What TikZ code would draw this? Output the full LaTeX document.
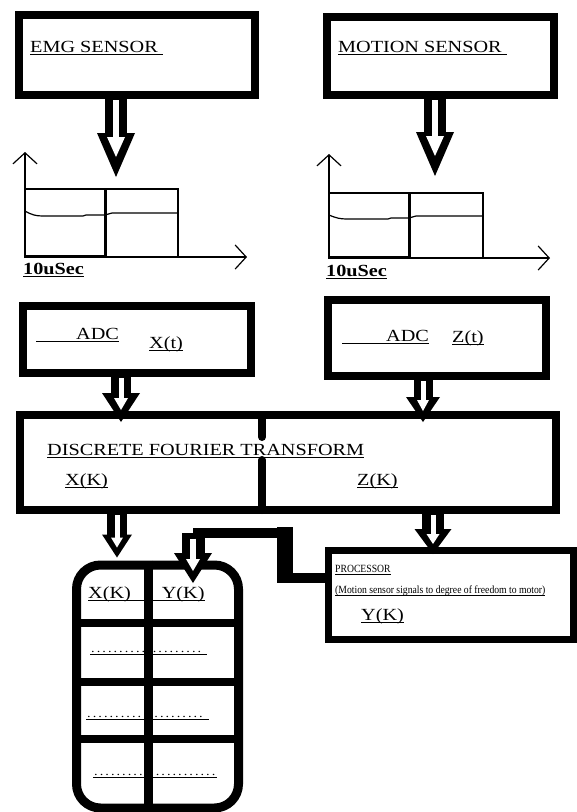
\documentclass[tikz,border=0pt]{standalone}
\usepackage{fontspec}
\setmainfont{Liberation Serif}[FakeStretch=1.19]
\newfontfamily\narrowfont{Liberation Serif}[FakeStretch=0.88]
\usetikzlibrary{arrows.meta,calc}
\newsavebox\ulbox
\newcommand\myul[1]{\sbox\ulbox{#1}\rlap{\rule[-2.6pt]{\wd\ulbox}{1.1pt}}\usebox\ulbox}
\newcommand\dotrow[1]{\hbox to #1{\leaders\hbox to 5.6pt{\hss.\hss}\hfill}}
% hollow arrow: start, end, shaft w, head w, head len, inner w, inner head w, inner back, inner start shorten
\newcommand\harrow[9]{%
  \draw[line width=#3pt, -{Triangle[length=#5pt,width=#4pt,line width=0pt]}] (#1) -- (#2);
  \draw[white, line width=#6pt, shorten <=#9pt, shorten >=#8pt, -{Triangle[length=#8pt,width=#7pt,line width=0pt]}] (#1) -- (#2);
}
\begin{document}
\begin{tikzpicture}[x=1pt,y=-1pt,
  box/.style={draw, line width=8.5pt, inner sep=0pt, outer sep=0pt},
  lbl/.style={anchor=base west, inner sep=0pt, font=\fontsize{17}{20}\selectfont},
  blbl/.style={anchor=base west, inner sep=0pt, font=\fontsize{17}{20}\selectfont\bfseries},
  dlbl/.style={anchor=base west, inner sep=0pt, font=\fontsize{12}{14}\selectfont},
  small/.style={anchor=base west, inner sep=0pt, font=\narrowfont\fontsize{11}{13}\selectfont},
  axis/.style={line width=1.2pt, -{Straight Barb[length=11pt,width=24pt]}},
  thinl/.style={line width=1.2pt},
  thickl/.style={line width=3pt},
]
\useasboundingbox (0,0) rectangle (577,812);

% boxes
\node[box, minimum width=236pt, minimum height=80pt] (emg) at (137,55) {};
\node[box, minimum width=227pt, minimum height=78pt] (mot) at (440.5,56) {};
\node[box, minimum width=228pt, minimum height=67pt] (adcl) at (137,339.5) {};
\node[box, minimum width=218pt, minimum height=76pt] (adcr) at (437,338) {};
\node[box, minimum width=536pt, minimum height=95pt] (dft) at (288,462.5) {};
\node[draw, line width=7pt, inner sep=0pt, minimum width=245pt, minimum height=89pt] (proc) at (451,595) {};
\node[draw, line width=9pt, inner sep=0pt, rounded corners=24pt, minimum width=162pt, minimum height=243pt] (st) at (157.5,686.5) {};

% texts
\node[lbl] (temg) at (30,52) {\myul{EMG SENSOR\ }};
\node[lbl] (tmot) at (338,52) {\myul{MOTION SENSOR\ }};
\node[blbl] (tsa) at (23,274) {\myul{10uSec}};
\node[blbl] (tsb) at (326,276) {\myul{10uSec}};
\node[lbl] (tadcl) at (36,339) {\myul{\hspace{40pt}ADC}};
\node[lbl] (txt) at (149,348) {\myul{X(t)}};
\node[lbl] (tadcr) at (342,341) {\myul{\hspace{44pt}ADC}};
\node[lbl] (tzt) at (452,342) {\myul{Z(t)}};
\node[lbl] (tdft) at (47,455) {\myul{DISCRETE FOURIER TRANSFORM}};
\node[lbl] (txk) at (65,485) {\myul{X(K)}};
\node[lbl] (tzk) at (357,485) {\myul{Z(K)}};
\node[small] (tproc) at (335,572) {\myul{PROCESSOR}};
\node[small] (tproc2) at (335,593) {\myul{(Motion sensor signals to degree of freedom to motor)}};
\node[lbl] (tyk) at (361,620) {\myul{Y(K)}};
\node[lbl] (tsxy) at (88,598) {\myul{X(K)\hspace{31pt}Y(K)}};
\node[dlbl] (dra) at (90,652) {\myul{\dotrow{117pt}}};
\node[dlbl] (drb) at (86,717) {\myul{\dotrow{123pt}}};
\node[dlbl] (drc) at (93,775) {\myul{\dotrow{124pt}}};

% graphs
\draw[axis] (25,257) -- (25,152);
\draw[axis] (25,257) -- (247,257);
\draw[thinl] (25,189) rectangle (178,257);
\draw[thickl] (105,189) -- (105,257);
\draw[thickl] (25,256) -- (105,256);
\draw[thinl] (25,211) .. controls (32,215) and (36,216) .. (43,216) -- (83,216) -- (86,215) -- (105,215) -- (112,213) -- (178,213);

\draw[axis] (329,258) -- (329,154);
\draw[axis] (329,258) -- (550,258);
\draw[thinl] (329,193) rectangle (483,258);
\draw[thickl] (409,193) -- (409,258);
\draw[thickl] (329,257) -- (409,257);
\draw[thinl] (329,215) .. controls (336,218) and (340,219) .. (347,219) -- (388,219) -- (391,218) -- (409,218) -- (416,216) -- (483,216);

% DFT divider
\coordinate (dv) at (262,0);
\draw[line width=8pt, line cap=round] (dft.north -| dv) -- (262,437);
\draw[line width=8pt, line cap=round] (262,460) -- (dft.south -| dv);

% storage grid
\coordinate (sdv) at (148,0);
\coordinate (ra) at (0,623);
\coordinate (rb) at (0,681.5);
\coordinate (rc) at (0,738.5);
\draw[line width=9pt] (st.north -| sdv) -- (st.south -| sdv);
\draw[line width=8pt] (st.west |- ra) -- (st.east |- ra);
\draw[line width=8pt] (st.west |- rb) -- (st.east |- rb);
\draw[line width=8pt] (st.west |- rc) -- (st.east |- rc);

% connector processor -> storage
\coordinate (pj) at (328.5,577.5);
\coordinate (ba) at (285,577.5);
\coordinate (bb) at (285,532.5);
\coordinate (bc) at (193,532.5);
\coordinate (sin) at (193,583);
\draw[line width=10pt] (pj) -- (ba) -- (bb) -- (bc);
\draw[line width=16pt] (285,527) -- (285,582.5);
\harrow{bc}{sin}{23}{38}{30}{6}{14}{12}{6}

% hollow arrows
\coordinate (emgtip) at (116,177);
\coordinate (mottip) at (435,176);
\coordinate (ea) at (116,0);
\coordinate (ma) at (435,0);
\harrow{emg.south -| ea}{emgtip}{22}{38}{44}{6}{18}{20}{5}
\harrow{mot.south -| ma}{mottip}{22}{38}{44}{6}{18}{20}{5}

\coordinate (aa) at (121,0);
\coordinate (ab) at (423,0);
\harrow{adcl.south -| aa}{$(dft.north -| aa)+(0,7)$}{20}{38}{29}{5}{14}{12}{5}
\harrow{adcr.south -| ab}{$(dft.north -| ab)+(0,7)$}{19}{34}{25}{5}{12}{11}{5}

\coordinate (ac) at (117,0);
\coordinate (ad) at (433,0);
\harrow{dft.south -| ac}{$(st.north -| ac)+(0,-3)$}{20}{30}{23}{5}{12}{10}{5}
\harrow{dft.south -| ad}{$(proc.north -| ad)+(0,7)$}{22}{37}{25}{5}{13}{10}{5}
\end{tikzpicture}
\end{document}
